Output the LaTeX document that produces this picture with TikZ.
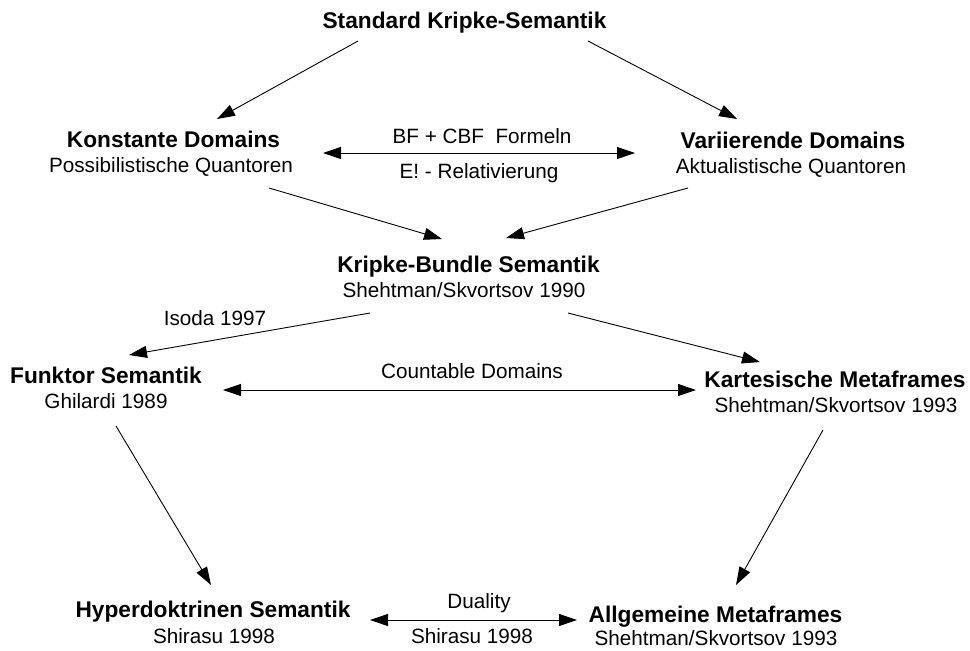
\documentclass[tikz,border=0pt]{standalone}
\usepackage{fontspec}
\setmainfont{Liberation Sans}
\usetikzlibrary{arrows.meta,calc}
\begin{document}
\begin{tikzpicture}[x=1pt,y=-1pt,
  title/.style={anchor=base,inner sep=0pt,font=\fontsize{22.7}{27}\selectfont\bfseries},
  sub/.style={anchor=base,inner sep=0pt,font=\fontsize{20.7}{25}\selectfont},
  lbl/.style={anchor=base,inner sep=0pt,font=\fontsize{20.7}{25}\selectfont},
  conn/.style={line width=0.9pt,-{Triangle[length=18pt,width=12pt]}},
  biconn/.style={line width=0.9pt,{Triangle[length=18pt,width=12pt]}-{Triangle[length=18pt,width=12pt]}}]
\useasboundingbox (0,0) rectangle (970,651);
% nodes
\node[title] (std) at (464.5,28) {Standard Kripke-Semantik};
\node[title] (kon) at (173.5,147) {Konstante Domains};
\node[sub] (konS) at (171,172) {Possibilistische Quantoren};
\node[title] (var) at (793,148) {Variierende Domains};
\node[sub] (varS) at (791,173) {Aktualistische Quantoren};
\node[title] (kb) at (468.5,272) {Kripke-Bundle Semantik};
\node[sub] (kbS) at (464,297) {Shehtman/Skvortsov 1990};
\node[title] (fun) at (106,383) {Funktor Semantik};
\node[sub] (funS) at (106,408) {Ghilardi 1989};
\node[title] (kar) at (835,387) {Kartesische Metaframes};
\node[sub] (karS) at (836,412) {Shehtman/Skvortsov 1993};
\node[title] (hyp) at (213,617.5) {Hyperdoktrinen Semantik};
\node[sub] (hypS) at (214,643) {Shirasu 1998};
\node[title] (all) at (715.5,622) {Allgemeine Metaframes};
\node[sub] (allS) at (716,645) {Shehtman/Skvortsov 1993};
% edge labels
\node[lbl] (bf) at (482,143) {BF + CBF\ \ Formeln};
\node[lbl] (er) at (479,178) {E! - Relativierung};
\node[lbl] (iso) at (215,325) {Isoda 1997};
\node[lbl] (cd) at (472,378) {Countable Domains};
\node[lbl] (du) at (479,608) {Duality};
\node[lbl] (sh) at (472,643) {Shirasu 1998};
% connectors
\draw[conn] ($(std.base)+(-106.5,13)$) -- ($(kon.base)+(43.5,-28)$);
\draw[conn] ($(std.base)+(123.5,13)$) -- ($(var.base)+(-56,-29)$);
\draw[conn] ($(konS.base)+(98,16)$) -- ($(kb.base)+(-26.5,-33)$);
\draw[conn] ($(varS.base)+(-103,15)$) -- ($(kb.base)+(37.5,-34)$);
\draw[conn] ($(kbS.base)+(-94,16)$) -- ($(fun.base)+(23,-28)$);
\draw[conn] ($(kbS.base)+(104,16)$) -- ($(kar.base)+(-75,-25)$);
\draw[conn] ($(funS.base)+(10,18)$) -- ($(hyp.base)+(-2,-32.5)$);
\draw[conn] ($(karS.base)+(-13,18)$) -- ($(all.base)+(20.5,-37)$);
\draw[biconn] ($(kon.base)+(149.5,6)$) -- ($(var.base)+(-158,5)$);
\draw[biconn] ($(fun.base)+(117,7)$) -- ($(kar.base)+(-139,3)$);
\draw[biconn] ($(hyp.base)+(157,2.5)$) -- ($(all.base)+(-138.5,-2)$);
\end{tikzpicture}
\end{document}
